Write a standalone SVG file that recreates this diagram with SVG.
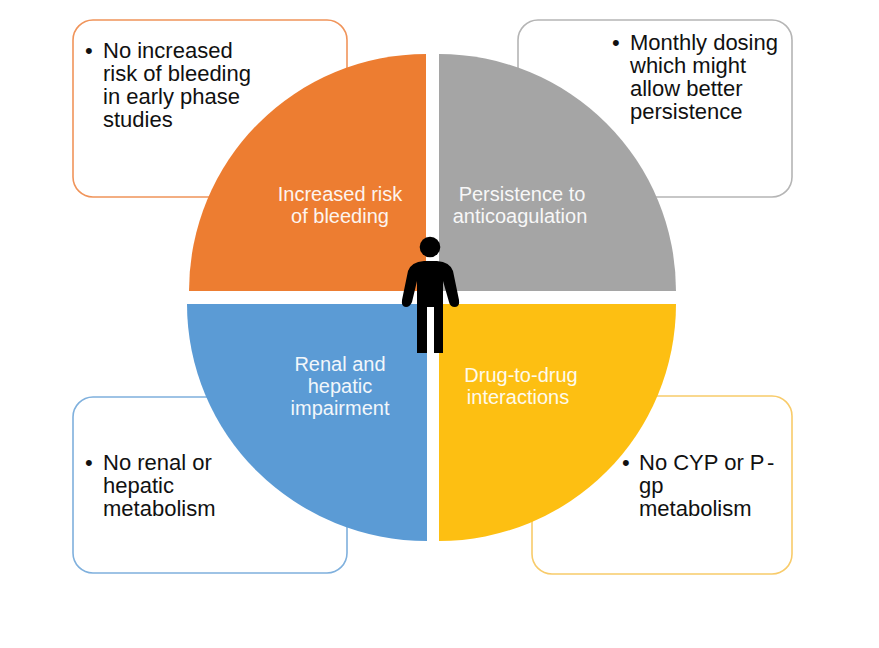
<svg xmlns="http://www.w3.org/2000/svg" width="879" height="648" viewBox="0 0 879 648">
<style>
.box{fill:#fff;stroke-width:1.6}
.t{font-family:"Liberation Sans",Arial,sans-serif;font-size:22px;fill:#111}
.w{font-family:"Liberation Sans",Arial,sans-serif;font-size:20px;fill:#fff;text-anchor:middle;opacity:.92}
</style>
<rect width="879" height="648" fill="#fff"/>
<g id="box-bleeding"><rect class="box" x="73" y="20" width="274" height="177" rx="20" stroke="#f0945a"/>
<text class="t" x="85" y="58">•</text><text class="t"><tspan x="103" y="58">No increased</tspan><tspan x="103" y="81">risk of bleeding</tspan><tspan x="103" y="104">in early phase</tspan><tspan x="103" y="127">studies</tspan></text></g>
<g id="box-persistence"><rect class="box" x="518" y="20" width="274" height="177" rx="20" stroke="#b5b5b5"/>
<text class="t" x="612" y="50">•</text><text class="t"><tspan x="630" y="50">Monthly dosing</tspan><tspan x="630" y="73">which might</tspan><tspan x="630" y="96">allow better</tspan><tspan x="630" y="119">persistence</tspan></text></g>
<g id="box-renal"><rect class="box" x="73" y="397" width="274" height="176" rx="20" stroke="#7fb0dd"/>
<text class="t" x="85" y="470">•</text><text class="t"><tspan x="103" y="470">No renal or</tspan><tspan x="103" y="493">hepatic</tspan><tspan x="103" y="516">metabolism</tspan></text></g>
<g id="box-drug"><rect class="box" x="532" y="396" width="260" height="178" rx="20" stroke="#f8cb6a"/>
<text class="t" x="622" y="470">•</text><text class="t"><tspan x="639" y="470">No CYP or P</tspan><tspan x="767" y="470">-</tspan><tspan x="639" y="493">gp</tspan><tspan x="639" y="516">metabolism</tspan></text></g>
<g id="q-bleeding"><path d="M426 291V54A237 237 0 0 0 189 291Z" fill="#ed7d31"/>
<text class="w"><tspan x="340" y="201">Increased risk</tspan><tspan x="340" y="223">of bleeding</tspan></text></g>
<g id="q-persistence"><path d="M439 291V54A237 237 0 0 1 676 291Z" fill="#a5a5a5"/>
<text class="w"><tspan x="522" y="201">Persistence to</tspan><tspan x="520" y="223">anticoagulation</tspan></text></g>
<g id="q-renal"><path d="M427 304V541A240 237 0 0 1 187 304Z" fill="#5b9bd5"/>
<text class="w"><tspan x="340" y="371">Renal and</tspan><tspan x="340" y="393">hepatic</tspan><tspan x="340" y="415">impairment</tspan></text></g>
<g id="q-drug"><path d="M439 304V541A237 237 0 0 0 676 304Z" fill="#fdbf12"/>
<text class="w"><tspan x="521" y="382">Drug-to-drug</tspan><tspan x="518" y="404">interactions</tspan></text></g>
<g id="person" fill="#000"><circle cx="430" cy="247" r="10.3"/>
<path d="M424 261L437 261Q450 262 453 271L459 300Q460 307 455 307Q450 307 449 302L443 281V353H434V307H427V353H417V281L412 302Q410 307 406 307Q401 307 402 300L408 271Q411 262 424 261Z"/></g>
<g id="connectors"></g>
</svg>
